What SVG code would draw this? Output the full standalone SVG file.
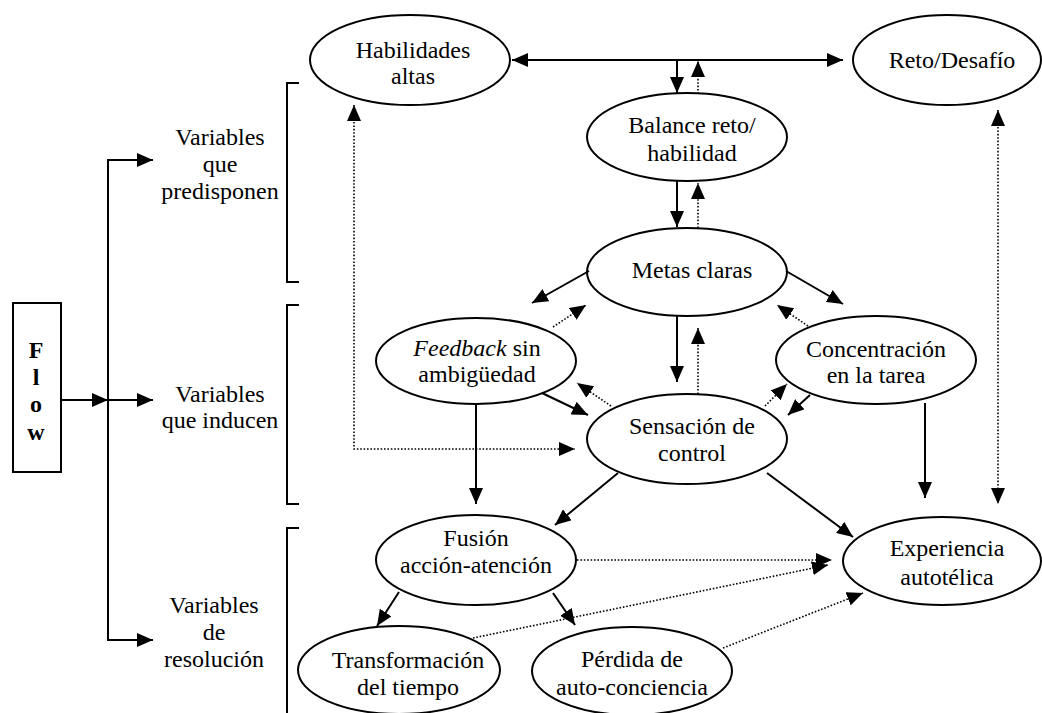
<svg xmlns="http://www.w3.org/2000/svg" width="1042" height="713" viewBox="0 0 1042 713">
  <style>
    text { font-family: "Liberation Serif", "Times New Roman", serif; font-size: 24px; fill: #000; text-anchor: middle; }
    .node ellipse { fill: #fff; stroke: #000; stroke-width: 2; }
    .solid { fill: none; stroke: #000; stroke-width: 2; }
    .dot { fill: none; stroke: #000; stroke-width: 1.6; stroke-dasharray: 1.6 1.8; }
    .bracket { fill: none; stroke: #000; stroke-width: 2; }
    .flowbox { fill: #fff; stroke: #000; stroke-width: 2; }
    .bold { font-weight: bold; }
  </style>
  <defs>
    <marker id="arrow" markerUnits="userSpaceOnUse" markerWidth="16" markerHeight="14" refX="16" refY="7" orient="auto-start-reverse">
      <path d="M0,0 L16,7 L0,14 z" fill="#000"/>
    </marker>
  </defs>

  <rect width="1042" height="713" fill="#fff"/>

  <!-- left side: Flow box, branching lines and category labels -->
  <g id="flow">
    <rect class="flowbox" x="13" y="303" width="48" height="169"/>
    <text class="bold" x="36" y="358">F</text>
    <text class="bold" x="36" y="385">l</text>
    <text class="bold" x="36" y="412">o</text>
    <text class="bold" x="36" y="440">w</text>
  </g>

  <g id="label-predisponen">
    <text x="220" y="145">Variables</text>
    <text x="220" y="172">que</text>
    <text x="220" y="199">predisponen</text>
    <path class="bracket" d="M299,83 H287 V282 H299"/>
  </g>
  <g id="label-inducen">
    <text x="220" y="402">Variables</text>
    <text x="220" y="428">que inducen</text>
    <path class="bracket" d="M299,305 H287 V504 H299"/>
  </g>
  <g id="label-resolucion">
    <text x="214" y="613">Variables</text>
    <text x="214" y="640">de</text>
    <text x="214" y="667">resolución</text>
    <path class="bracket" d="M299,528 H287 V713"/>
  </g>

  <!-- nodes -->
  <g id="habilidades" class="node">
    <ellipse cx="410" cy="60" rx="100" ry="45"/>
    <text x="413" y="58">Habilidades</text>
    <text x="413" y="84">altas</text>
  </g>
  <g id="reto" class="node">
    <ellipse cx="947" cy="60" rx="94" ry="45"/>
    <text x="952" y="68">Reto/Desafío</text>
  </g>
  <g id="balance" class="node">
    <ellipse cx="687" cy="137" rx="100" ry="44"/>
    <text x="692" y="133">Balance reto/</text>
    <text x="692" y="161">habilidad</text>
  </g>
  <g id="metas" class="node">
    <ellipse cx="687" cy="272" rx="100" ry="44"/>
    <text x="692" y="278">Metas claras</text>
  </g>
  <g id="feedback" class="node">
    <ellipse cx="476" cy="361" rx="100" ry="43"/>
    <text x="477" y="356"><tspan font-style="italic">Feedback</tspan> sin</text>
    <text x="477" y="382">ambigüedad</text>
  </g>
  <g id="concentracion" class="node">
    <ellipse cx="876" cy="360" rx="100" ry="44"/>
    <text x="876" y="357">Concentración</text>
    <text x="876" y="383">en la tarea</text>
  </g>
  <g id="sensacion" class="node">
    <ellipse cx="687" cy="439" rx="100" ry="45"/>
    <text x="692" y="434">Sensación de</text>
    <text x="692" y="461">control</text>
  </g>
  <g id="fusion" class="node">
    <ellipse cx="476" cy="560" rx="100" ry="45"/>
    <text x="476" y="546">Fusión</text>
    <text x="476" y="573">acción-atención</text>
  </g>
  <g id="experiencia" class="node">
    <ellipse cx="942" cy="561" rx="99" ry="44"/>
    <text x="947" y="556">Experiencia</text>
    <text x="947" y="585">autotélica</text>
  </g>
  <g id="transformacion" class="node">
    <ellipse cx="399" cy="670" rx="101" ry="44"/>
    <text x="408" y="668">Transformación</text>
    <text x="408" y="695">del tiempo</text>
  </g>
  <g id="perdida" class="node">
    <ellipse cx="632" cy="671" rx="100" ry="44"/>
    <text x="632" y="667">Pérdida de</text>
    <text x="632" y="695">auto-conciencia</text>
  </g>

  <!-- connectors -->
  <g id="connectors">
    <!-- Flow branches -->
    <line class="solid" x1="61" y1="400" x2="108" y2="400" marker-end="url(#arrow)"/>
    <line class="solid" x1="108" y1="400" x2="153" y2="400" marker-end="url(#arrow)"/>
    <line class="solid" x1="108" y1="159" x2="108" y2="641"/>
    <line class="solid" x1="107" y1="160" x2="153" y2="160" marker-end="url(#arrow)"/>
    <line class="solid" x1="107" y1="640" x2="153" y2="640" marker-end="url(#arrow)"/>

    <!-- solid relations -->
    <line class="solid" x1="512" y1="60" x2="843" y2="60" marker-start="url(#arrow)" marker-end="url(#arrow)"/>
    <line class="solid" x1="677" y1="60" x2="677" y2="93" marker-end="url(#arrow)"/>
    <line class="solid" x1="677" y1="181" x2="677" y2="227" marker-end="url(#arrow)"/>
    <line class="solid" x1="589" y1="271" x2="532" y2="303" marker-end="url(#arrow)"/>
    <line class="solid" x1="786" y1="271" x2="843" y2="304" marker-end="url(#arrow)"/>
    <line class="solid" x1="677" y1="316" x2="677" y2="382" marker-end="url(#arrow)"/>
    <line class="solid" x1="542" y1="393" x2="588" y2="415" marker-end="url(#arrow)"/>
    <line class="solid" x1="810" y1="395" x2="788" y2="415" marker-end="url(#arrow)"/>
    <line class="solid" x1="476" y1="404" x2="476" y2="504" marker-end="url(#arrow)"/>
    <line class="solid" x1="925" y1="403" x2="925" y2="498" marker-end="url(#arrow)"/>
    <line class="solid" x1="618" y1="473" x2="555" y2="525" marker-end="url(#arrow)"/>
    <line class="solid" x1="767" y1="473" x2="853" y2="537" marker-end="url(#arrow)"/>
    <line class="solid" x1="399" y1="592" x2="377" y2="626" marker-end="url(#arrow)"/>
    <line class="solid" x1="553" y1="593" x2="575" y2="625" marker-end="url(#arrow)"/>

    <!-- dotted feedback relations -->
    <line class="dot" x1="698" y1="94" x2="698" y2="61" marker-end="url(#arrow)"/>
    <line class="dot" x1="698" y1="228" x2="698" y2="183" marker-end="url(#arrow)"/>
    <line class="dot" x1="553" y1="327" x2="586" y2="305" marker-end="url(#arrow)"/>
    <line class="dot" x1="808" y1="326" x2="777" y2="305" marker-end="url(#arrow)"/>
    <line class="dot" x1="698" y1="394" x2="698" y2="328" marker-end="url(#arrow)"/>
    <line class="dot" x1="611" y1="406" x2="577" y2="383" marker-end="url(#arrow)"/>
    <line class="dot" x1="765" y1="406" x2="787" y2="384" marker-end="url(#arrow)"/>
    <path class="dot" d="M354,105 V449 H575" marker-start="url(#arrow)" marker-end="url(#arrow)"/>
    <line class="dot" x1="998" y1="110" x2="998" y2="504" marker-start="url(#arrow)" marker-end="url(#arrow)"/>
    <line class="dot" x1="577" y1="560" x2="832" y2="560" marker-end="url(#arrow)"/>
    <line class="dot" x1="473" y1="638" x2="828" y2="565" marker-end="url(#arrow)"/>
    <line class="dot" x1="723" y1="648" x2="863" y2="593" marker-end="url(#arrow)"/>
  </g>
</svg>
